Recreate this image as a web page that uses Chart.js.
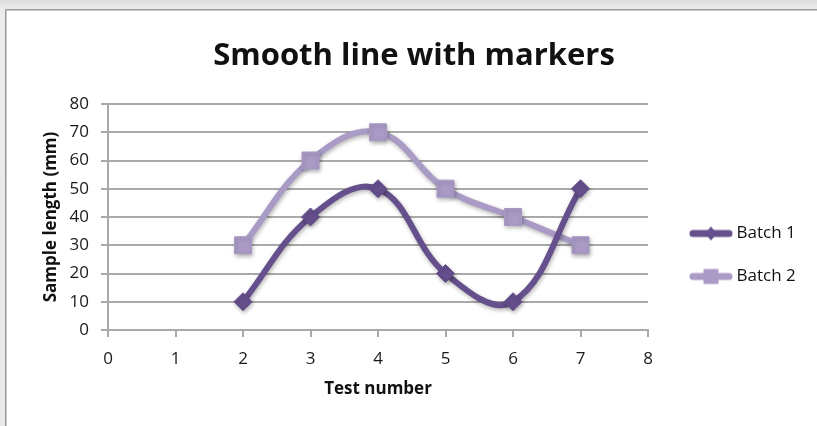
<!DOCTYPE html>
<html>
<head>
<meta charset="utf-8">
<script src="https://cdn.jsdelivr.net/npm/chart.js@4/dist/chart.umd.min.js"></script>
<style>
  html, body { margin: 0; padding: 0; }
  body { width: 817px; height: 426px; overflow: hidden; position: relative;
         background: linear-gradient(to bottom, #dcdcdc 0px, #ececec 9px, #e8e8e8 426px); }
  #frame { position: absolute; left: 5px; top: 9px; width: 830px; height: 430px;
           background: #ffffff; border-left: 1px solid #9a9a9a; border-top: 1px solid #9a9a9a;
           box-shadow: inset 1px 1px 0 #c8c8c8; }
  #c { position: absolute; left: 0; top: 0; }
</style>
</head>
<body>
<div id="frame"></div>
<canvas id="c" width="817" height="426"></canvas>
<script>
// ---- data ----
const testNumbers = [2, 3, 4, 5, 6, 7];
const batch1 = [10, 40, 50, 20, 10, 50];
const batch2 = [30, 60, 70, 50, 40, 30];
const seriesNames = ['Batch 1', 'Batch 2'];
const xTicks = [0, 1, 2, 3, 4, 5, 6, 7, 8];
const yTicks = [0, 10, 20, 30, 40, 50, 60, 70, 80];

const color1 = '#654f8c';
const color2 = '#a99bc6';
const gridColor = '#a9a9a9';
const FONT = "'Open Sans', 'DejaVu Sans', sans-serif";

function legendIcon(color, shape) {
  const cv = document.createElement('canvas');
  cv.width = 44; cv.height = 18;
  const g = cv.getContext('2d');
  g.strokeStyle = color; g.lineWidth = 7; g.lineCap = 'round';
  g.beginPath(); g.moveTo(4, 9); g.lineTo(40, 9); g.stroke();
  g.fillStyle = color;
  if (shape === 'diamond') {
    g.beginPath(); g.moveTo(22, 2); g.lineTo(28, 9); g.lineTo(22, 16); g.lineTo(16, 9); g.closePath(); g.fill();
  } else {
    g.fillRect(14.5, 1.5, 15, 15);
  }
  return cv;
}
const icons = [legendIcon(color1, 'diamond'), legendIcon(color2, 'square')];

const toPoints = (ys) => testNumbers.map((x, i) => ({ x: x, y: ys[i] }));

const shadowPlugin = {
  id: 'shadow',
  beforeDatasetsDraw(chart) {
    const ctx = chart.ctx;
    ctx.save();
    ctx.shadowColor = 'rgba(0,0,0,0.30)';
    ctx.shadowBlur = 4;
    ctx.shadowOffsetX = 1;
    ctx.shadowOffsetY = 2;
  },
  afterDatasetsDraw(chart) { chart.ctx.restore(); }
};

new Chart(document.getElementById('c'), {
  type: 'line',
  data: {
    datasets: [
      { label: seriesNames[0], data: toPoints(batch1), borderColor: color1, backgroundColor: color1,
        borderWidth: 6, tension: 0.4, pointStyle: 'rectRot', pointRadius: 9,
        pointBackgroundColor: color1, pointBorderColor: color1, pointBorderWidth: 1, fill: false },
      { label: seriesNames[1], data: toPoints(batch2), borderColor: color2, backgroundColor: color2,
        borderWidth: 6, tension: 0.4, pointStyle: 'rect', pointRadius: 12,
        pointBackgroundColor: color2, pointBorderColor: color2, pointBorderWidth: 1, fill: false }
    ]
  },
  options: {
    responsive: false,
    animation: false,
    devicePixelRatio: 1,
    layout: { padding: { left: 30, right: 19, top: 0, bottom: 0 } },
    plugins: {
      title: {
        display: true,
        text: 'Smooth line with markers',
        color: '#111',
        font: { family: FONT, size: 31, weight: 'bold' },
        padding: { top: 38, bottom: 28.8 }
      },
      legend: {
        display: true,
        position: 'right',
        align: 'center',
        fullSize: false,
        maxWidth: 130,
        title: { display: true, text: '', font: { size: 12 }, padding: { top: 61.6, bottom: 0 } },
        labels: {
          usePointStyle: true,
          pointStyleWidth: 34,
          padding: 26,
          color: '#111',
          font: { family: FONT, size: 17 },
          generateLabels(chart) {
            const items = Chart.defaults.plugins.legend.labels.generateLabels(chart);
            items.forEach(it => { it.pointStyle = icons[it.datasetIndex]; });
            return items;
          }
        }
      },
      tooltip: { enabled: false }
    },
    scales: {
      x: {
        type: 'linear',
        min: xTicks[0], max: xTicks[xTicks.length - 1],
        afterBuildTicks(s) { s.ticks = xTicks.map(v => ({ value: v })); },
        afterFit(s) { s.height = 96; },
        grid: { display: true, drawOnChartArea: false, drawTicks: true, tickLength: 7, color: gridColor, lineWidth: 2 },
        border: { display: true, color: gridColor, width: 2 },
        ticks: { color: '#1a1a1a', font: { family: FONT, size: 17 }, padding: 12 },
        title: { display: true, text: 'Test number', color: '#111',
                 font: { family: FONT, size: 17, weight: 'bold' }, padding: { top: 0, bottom: 26.8 } }
      },
      y: {
        type: 'linear',
        min: yTicks[0], max: yTicks[yTicks.length - 1],
        afterBuildTicks(s) { s.ticks = yTicks.map(v => ({ value: v })); },
        afterFit(s) { s.width = 78; },
        grid: { display: true, drawTicks: true, tickLength: 7, color: gridColor, lineWidth: 2 },
        border: { display: true, color: gridColor, width: 2 },
        ticks: { color: '#1a1a1a', font: { family: FONT, size: 17 }, padding: 12 },
        title: { display: true, text: 'Sample length (mm)', color: '#111',
                 font: { family: FONT, size: 17, weight: 'bold' }, padding: { top: 10.8, bottom: 0 } }
      },
      yr: {
        type: 'linear',
        position: 'right',
        display: true,
        afterFit(s) { s.width = 20; },
        grid: { display: false, drawTicks: false },
        border: { display: false },
        ticks: { display: false }
      }
    }
  },
  plugins: [shadowPlugin]
});
</script>
</body>
</html>
